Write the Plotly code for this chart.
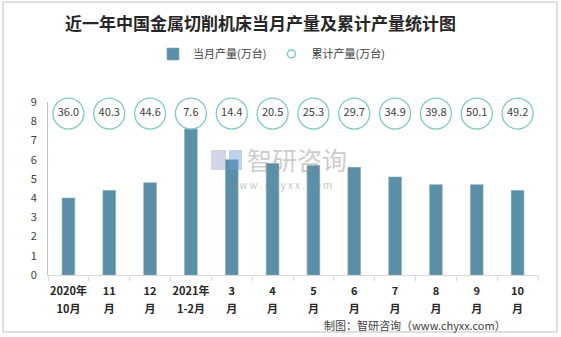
import plotly.graph_objects as go

# ---- data ----
label_line1 = ["2020年", "11", "12", "2021年", "3", "4", "5", "6", "7", "8", "9", "10"]
label_line2 = ["10月", "月", "月", "1-2月", "月", "月", "月", "月", "月", "月", "月", "月"]
categories = [a + b for a, b in zip(label_line1, label_line2)]
monthly_output = [4.0, 4.4, 4.8, 7.6, 6.0, 5.8, 5.7, 5.6, 5.1, 4.7, 4.7, 4.4]
cumulative_output = [36.0, 40.3, 44.6, 7.6, 14.4, 20.5, 25.3, 29.7, 34.9, 39.8, 50.1, 49.2]
y_ticks = [0, 1, 2, 3, 4, 5, 6, 7, 8, 9]

W, H = 561, 337
L, R, T, B = 48, 23, 102, 62
PW, PH = W - L - R, H - T - B


def px(x):
    return (x - L) / PW


def py(y):
    return (H - B - y) / PH


bar_color = "#5b8ea7"
ring_color = "#7fcac3"
font_cjk = "Noto Sans CJK SC"
tick_font = dict(size=11, color="#262626", family=font_cjk, weight="bold")

fig = go.Figure()

fig.add_trace(go.Bar(
    x=categories, y=monthly_output, name="当月产量(万台)",
    marker=dict(color=bar_color, line=dict(color="#7fa8bb", width=0.6)),
    width=0.31, showlegend=True,
))

# circle labels row for cumulative values (fixed label height)
label_row = [8.4] * len(categories)
fig.add_trace(go.Scatter(
    x=categories, y=label_row, mode="markers+text",
    text=[f"{v:.1f}" for v in cumulative_output], textposition="middle center",
    textfont=dict(size=11, color="#404040", family=font_cjk),
    marker=dict(symbol="circle-open", size=31, color=ring_color,
                line=dict(color=ring_color, width=1.3)),
    showlegend=False, hoverinfo="skip", cliponaxis=False,
))
# legend entry for cumulative (attached to the second-line label axis)
fig.add_trace(go.Scatter(
    x=[None], y=[None], mode="markers", name="累计产量(万台)", xaxis="x2",
    marker=dict(symbol="circle-open", size=8, color=ring_color,
                line=dict(color=ring_color, width=1.5)),
))

n = len(categories)
fig.update_layout(
    width=W, height=H,
    margin=dict(l=L, r=R, t=T, b=B, autoexpand=False),
    paper_bgcolor="white", plot_bgcolor="white",
    font=dict(family=font_cjk, color="#404040"),
    bargap=0.69,
    showlegend=True,
    legend=dict(orientation="h", x=px(153), y=py(54), xanchor="left", yanchor="middle",
                font=dict(size=11, color="#404040", family=font_cjk),
                itemwidth=30, tracegroupgap=0, bgcolor="rgba(0,0,0,0)"),
    xaxis=dict(
        type="category", range=[-0.5, n - 0.5],
        categoryorder="array", categoryarray=categories,
        tickmode="array", tickvals=categories, ticktext=label_line1,
        showline=True, linecolor="#d9d9d9", linewidth=1,
        ticks="outside", tickson="boundaries", ticklen=5, tickcolor="#d9d9d9",
        tickangle=0, automargin=False, ticklabelstandoff=6,
        tickfont=tick_font, showgrid=False, zeroline=False,
    ),
    xaxis2=dict(
        type="linear", range=[-0.5, n - 0.5], overlaying="x", anchor="y", side="bottom",
        tickmode="array", tickvals=list(range(n)), ticktext=label_line2,
        showline=False, ticks="outside", ticklen=5, tickcolor="rgba(0,0,0,0)",
        tickangle=0, automargin=False, ticklabelstandoff=19,
        tickfont=tick_font, showgrid=False, zeroline=False,
    ),
    yaxis=dict(
        range=[0, 9], tickvals=y_ticks, showline=True, linecolor="#bfbfbf", linewidth=1,
        showgrid=False, zeroline=False, ticks="", ticklabelstandoff=8, automargin=False,
        tickfont=dict(size=11, color="#404040", family=font_cjk),
    ),
)

annotations = [
    dict(text="近一年中国金属切削机床当月产量及累计产量统计图", x=px(260), y=py(22),
         xref="paper", yref="paper", showarrow=False, xanchor="center", yanchor="middle",
         font=dict(size=17, color="#262626", family=font_cjk, weight="bold")),
    dict(text="制图：智研咨询（www.chyxx.com）", x=px(508), y=py(325),
         xref="paper", yref="paper", showarrow=False, xanchor="right", yanchor="middle",
         font=dict(size=11, color="#404040", family=font_cjk)),
    dict(text="智研咨询", x=px(297), y=py(159), xref="paper", yref="paper", showarrow=False,
         xanchor="center", yanchor="middle",
         font=dict(size=25, color="rgba(140,140,140,0.45)", family=font_cjk)),
    dict(text="w w w . c h y x x . c o m", x=px(280), y=py(184), xref="paper", yref="paper",
         showarrow=False, xanchor="center", yanchor="middle",
         font=dict(size=10, color="rgba(140,140,140,0.5)", family=font_cjk)),
]
fig.update_layout(annotations=annotations)

shapes = [
    # outer frame
    dict(type="rect", xref="paper", yref="paper", x0=px(3), x1=px(557), y0=py(332), y1=py(2),
         line=dict(color="#bfbfbf", width=1), fillcolor="rgba(0,0,0,0)", layer="below"),
    # watermark logo blocks
    dict(type="rect", xref="paper", yref="paper", x0=px(211), x1=px(226), y0=py(170), y1=py(150),
         line=dict(width=0), fillcolor="rgba(150,165,200,0.45)", layer="above"),
    dict(type="rect", xref="paper", yref="paper", x0=px(229), x1=px(242), y0=py(170), y1=py(150),
         line=dict(width=0), fillcolor="rgba(110,160,215,0.45)", layer="above"),
]
fig.update_layout(shapes=shapes)

fig.write_html("out.html")
